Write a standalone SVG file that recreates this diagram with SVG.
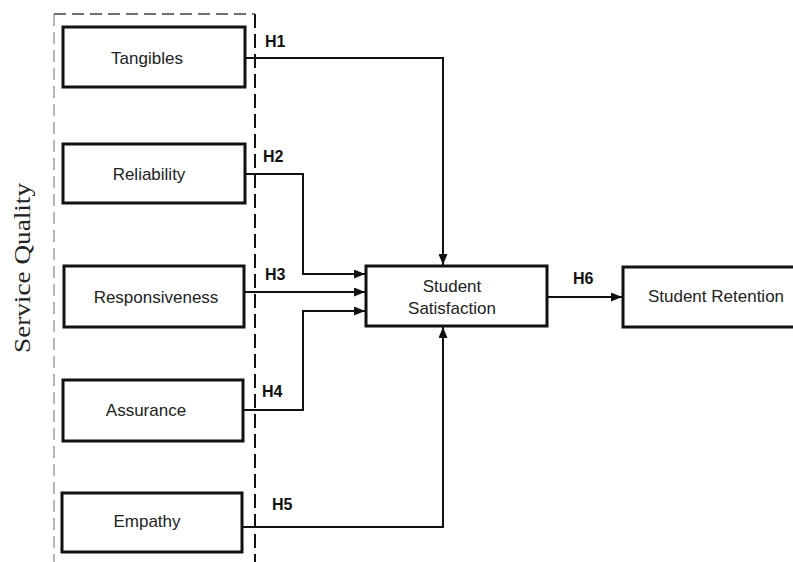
<svg xmlns="http://www.w3.org/2000/svg" width="793" height="562" viewBox="0 0 793 562">
<defs>
<marker id="arr" markerWidth="11" markerHeight="9" refX="11" refY="4.5" orient="auto" markerUnits="userSpaceOnUse">
<path d="M0,0 L11,4.5 L0,9 Z" fill="#111"/>
</marker>
<style>
.box{fill:#fff;stroke:#111;stroke-width:3}
.lbl{font-family:"Liberation Sans",Arial,sans-serif;font-size:17px;fill:#222;text-anchor:middle}
.h{font-family:"Liberation Sans",Arial,sans-serif;font-size:16px;font-weight:bold;fill:#111}
.con{fill:none;stroke:#111;stroke-width:2}
</style>
</defs>
<rect width="793" height="562" fill="#fff"/>
<g id="group-frame">
<line x1="54" y1="14" x2="54" y2="562" stroke="#888" stroke-width="1.2" stroke-dasharray="12,6"/>
<line x1="54" y1="14" x2="255" y2="14" stroke="#444" stroke-width="1.5" stroke-dasharray="12,6"/>
<line x1="255" y1="14" x2="255" y2="562" stroke="#111" stroke-width="2" stroke-dasharray="14,6"/>
<text x="0" y="0" transform="translate(30,268) rotate(-90)" font-family="'Liberation Serif','Times New Roman',serif" font-size="23" fill="#222" text-anchor="middle" textLength="170" lengthAdjust="spacingAndGlyphs">Service Quality</text>
</g>
<g id="connectors">
<polyline class="con" points="245,58 443,58 443,265" marker-end="url(#arr)"/>
<polyline class="con" points="245,174 303,174 303,274 365,274" marker-end="url(#arr)"/>
<line class="con" x1="245" y1="292" x2="365" y2="292" marker-end="url(#arr)"/>
<polyline class="con" points="243,410 303,410 303,311 365,311" marker-end="url(#arr)"/>
<polyline class="con" points="243,527 443,527 443,327" marker-end="url(#arr)"/>
<line class="con" x1="548" y1="297" x2="622" y2="297" marker-end="url(#arr)"/>
<text class="h" x="265" y="47">H1</text>
<text class="h" x="263" y="162">H2</text>
<text class="h" x="265" y="280">H3</text>
<text class="h" x="262" y="397">H4</text>
<text class="h" x="272" y="510">H5</text>
<text class="h" x="573" y="284">H6</text>
</g>
<g id="node-tangibles">
<rect class="box" x="63" y="27" width="182" height="60"/>
<text class="lbl" x="147" y="64">Tangibles</text>
</g>
<g id="node-reliability">
<rect class="box" x="63" y="144" width="182" height="59"/>
<text class="lbl" x="149" y="180">Reliability</text>
</g>
<g id="node-responsiveness">
<rect class="box" x="64" y="266" width="180" height="61"/>
<text class="lbl" x="156" y="303">Responsiveness</text>
</g>
<g id="node-assurance">
<rect class="box" x="63" y="380" width="180" height="61"/>
<text class="lbl" x="146" y="416">Assurance</text>
</g>
<g id="node-empathy">
<rect class="box" x="62" y="493" width="180" height="59"/>
<text class="lbl" x="147" y="527">Empathy</text>
</g>
<g id="node-satisfaction">
<rect class="box" x="366" y="266" width="181" height="60"/>
<text class="lbl" x="452" y="292">Student</text>
<text class="lbl" x="452" y="314">Satisfaction</text>
</g>
<g id="node-retention">
<rect class="box" x="623" y="267" width="175" height="60"/>
<text class="lbl" x="716" y="302">Student Retention</text>
</g>
</svg>
